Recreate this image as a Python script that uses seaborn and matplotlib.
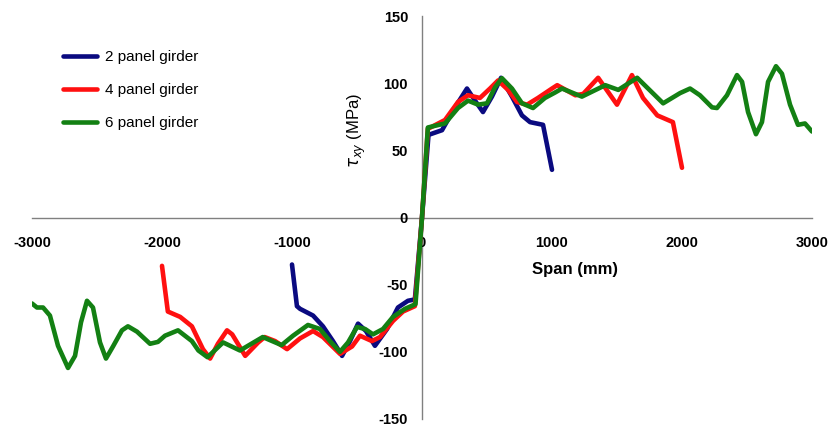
import numpy as np
import pandas as pd
import matplotlib
matplotlib.use("Agg")
import matplotlib.pyplot as plt
import seaborn as sns

# shear stress along the span
span_2 = [-1000, -962, -938, -838, -762, -685, -615, -554, -492, -431, -362, -269, -185,
          -108, -55, 0, 50, 154, 254, 346, 408, 469, 538, 608, 692, 769, 831, 931, 1000]
tau_2 = [-35, -66, -68, -73, -81, -92, -103, -92, -79, -84.5, -95.5, -83, -67,
         -62, -61, 0, 61.5, 65, 82, 96, 87, 78.5, 90, 104, 90, 76, 71, 69, 35.5]

span_4 = [-2000, -1955, -1860, -1770, -1685, -1630, -1570, -1500, -1460, -1360, -1260,
          -1210, -1130, -1038, -938, -838, -762, -631, -538, -477, -385, -323, -223, -146,
          -55, 0, 45, 177, 277, 354, 446, 523, 585, 662, 731, 808, 892, 1000, 1040, 1180,
          1240, 1355, 1500, 1615, 1700, 1810, 1930, 2000]
tau_4 = [-36, -70, -74, -81, -98, -105, -94, -84, -87, -103, -93,
         -89, -92, -98, -90, -84.5, -89, -101.5, -96, -88, -92, -89, -77, -70,
         -66, 0, 66, 72.6, 86, 91, 89, 96, 102, 95, 86, 84, 89, 96, 98.5, 91,
         92, 104, 84, 106, 89, 76, 71, 37]

span_6 = [-3000, -2962, -2915, -2862, -2800, -2723, -2669, -2623, -2577, -2531, -2477,
          -2431, -2377, -2308, -2262, -2192, -2092, -2031, -1977, -1877, -1770, -1720,
          -1650, -1530, -1400, -1225, -1080, -992, -877, -785, -708, -631, -569, -500,
          -438, -377, -300, -223, -131, -50,
          0, 45, 177, 277, 354, 431, 500, 562, 615, 692, 769, 854, 946, 1023, 1077, 1230,
          1410, 1510, 1655, 1855, 1985, 2062, 2138, 2231, 2269, 2346, 2423, 2462, 2508,
          2569, 2615, 2662, 2723, 2769, 2831, 2892, 2946, 3000]
tau_6 = [-64, -67, -67, -73, -95.5, -112, -103, -78, -62, -67, -93,
         -105, -96, -84, -81, -85, -94, -92.6, -88, -84, -92, -99,
         -104, -93, -99, -89, -95, -88, -80, -83, -92, -100, -93, -81.5,
         -83, -87, -83, -74, -68, -64.5,
         0, 67, 70, 81.5, 87, 84, 85, 97, 103.7, 96, 85, 81.5, 89, 93, 96, 90,
         98.5, 95, 104, 85, 92.6, 96, 91, 82, 81.5, 91, 106, 101, 78.5,
         62, 71, 101, 112.6, 107, 84, 69, 70, 64]

labels = ["2 panel girder", "4 panel girder", "6 panel girder"]
colors = {"2 panel girder": "#0a0a80", "4 panel girder": "#ff1010", "6 panel girder": "#138013"}

df = pd.concat([
    pd.DataFrame({"span": span_2, "tau": tau_2, "girder": labels[0]}),
    pd.DataFrame({"span": span_4, "tau": tau_4, "girder": labels[1]}),
    pd.DataFrame({"span": span_6, "tau": tau_6, "girder": labels[2]}),
])

sns.set_style("white")
plt.rcParams['font.family'] = ['Liberation Sans', 'DejaVu Sans']
plt.rcParams['axes.unicode_minus'] = False
plt.rcParams['text.color'] = 'black'
plt.rcParams['axes.labelcolor'] = 'black'

fig = plt.figure(figsize=(8.31, 4.28), dpi=100)
ax = fig.add_axes([32/831, 1 - 419/428, 780/831, 403/428])

sns.lineplot(data=df, x="span", y="tau", hue="girder", hue_order=labels,
             palette=colors, estimator=None, sort=False, linewidth=3.3,
             solid_joinstyle="round", ax=ax)

ax.set_xlim(-3000, 3000)
ax.set_ylim(-150, 150)
ax.set_xticks([-3000, -2000, -1000, 0, 1000, 2000, 3000])
ax.set_yticks([-150, -100, -50, 0, 50, 100, 150])

for side in ["top", "right"]:
    ax.spines[side].set_visible(False)
ax.spines["left"].set_position(("data", 0))
ax.spines["bottom"].set_position(("data", 0))
for side in ["left", "bottom"]:
    ax.spines[side].set_color("#808080")
    ax.spines[side].set_linewidth(1.0)
    ax.spines[side].set_zorder(0.5)

ax.tick_params(axis="both", direction="out", length=4, width=1, color="#808080",
               labelsize=10.5, labelcolor="black")
ax.tick_params(axis="x", pad=9)
ax.tick_params(axis="y", pad=6)
for lab in ax.get_xticklabels() + ax.get_yticklabels():
    lab.set_fontweight("bold")

ax.set_xlabel("Span (mm)", fontsize=12, fontweight="bold")
ax.xaxis.set_label_coords((575 - 32) / 780, (419 - 262) / 403)
ax.set_ylabel(r"$\tau_{xy}$ (MPa)", fontsize=12)
ax.yaxis.set_label_coords((368 - 32) / 780, (419 - 130) / 403)

leg = ax.legend(frameon=False, loc="center left", bbox_to_anchor=(63/831, 1 - 90/428),
                bbox_transform=fig.transFigure, fontsize=11, handlelength=2.2,
                handletextpad=0.55, labelspacing=1.25, borderpad=0, borderaxespad=0)
for t in leg.get_texts():
    t.set_color("black")

fig.savefig("out.png", dpi=100)
